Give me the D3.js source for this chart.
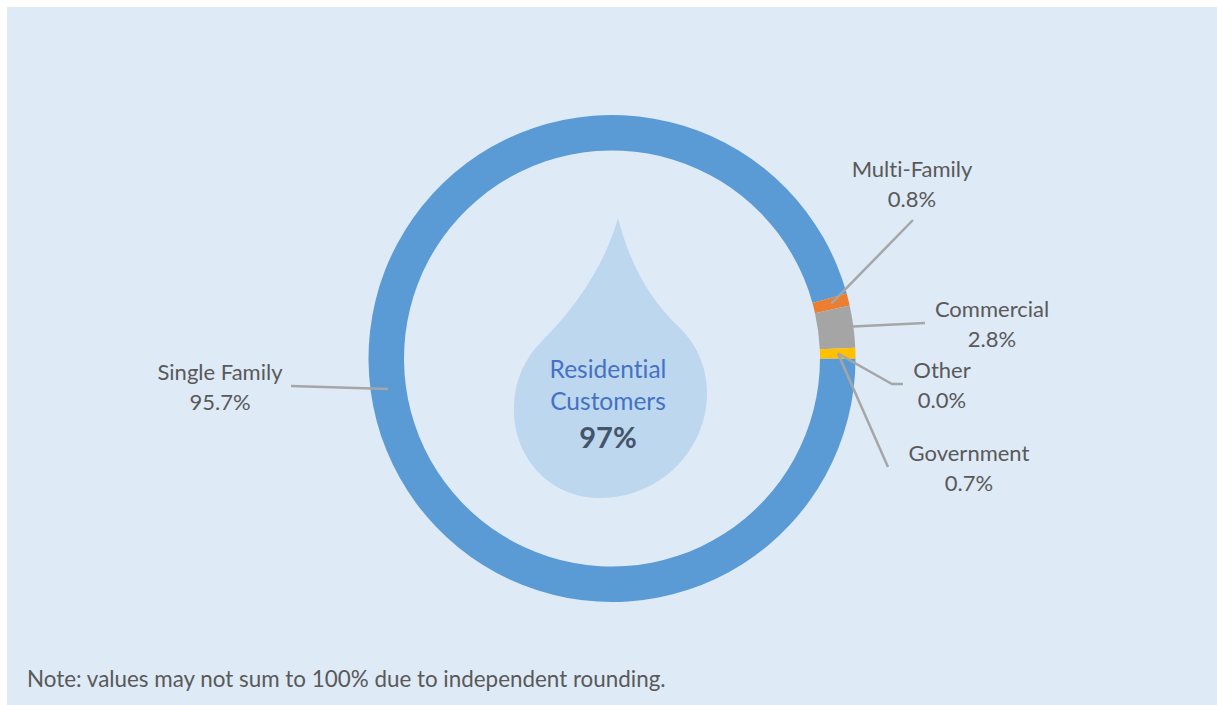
<!DOCTYPE html>
<html><head><meta charset="utf-8">
<script src="https://cdn.jsdelivr.net/npm/d3@7/dist/d3.min.js"></script>
<style>html,body{margin:0;padding:0;background:#fff;overflow:hidden}svg{display:block}text{font-family:Lato,"Open Sans",sans-serif;font-variant-ligatures:none}</style>
</head><body><svg id="c" width="1217" height="705"></svg>
<script>
const categories=["Single Family","Multi-Family","Commercial","Other","Government"];
const values=[95.7,0.8,2.8,0.0,0.7];
const colors=["#5B9BD5","#ED7D31","#A5A5A5","#4472C4","#FFC000"];
const centerLines=["Residential","Customers"];
const centerValue="97%";
const note="Note: values may not sum to 100% due to independent rounding.";

// layout (separate from the data)
const cx=612,cy=358.5,R=243.5,r0=208;
const labelPos={
 "Single Family":{x:220,y:380,pts:[[291,386]],radius:226},
 "Multi-Family":{x:912,y:177,pts:[[913,220]],radius:226},
 "Commercial":{x:992,y:317,pts:[[925,323]],radius:243},
 "Other":{x:942,y:378,pts:[[903,384],[892,384]],radius:226,anchor:"Government"},
 "Government":{x:969,y:461,pts:[[888,467]],radius:226}
};
const svg=d3.select("#c");
svg.append("rect").attr("x",7).attr("y",7).attr("width",1210).attr("height",698).attr("fill","#DEEAF6");

const pie=d3.pie().sort(null).startAngle(Math.PI/2).endAngle(Math.PI/2+2*Math.PI)(values);
const arc=d3.arc().innerRadius(r0).outerRadius(R);
const g=svg.append("g").attr("transform",`translate(${cx},${cy})`);

// drop
svg.append("path").attr("fill","#BDD7EE")
 .attr("d","M618,218C630,265 650,300 680,328C700,348 707,372 707,393C707,450 660,498 600,498C550,498 514,458 514,410C514,380 525,358 543,340C575,308 605,265 618,218Z");

g.selectAll("path.s").data(pie).join("path").attr("class","s")
 .attr("d",arc).attr("fill",(d,i)=>colors[i]);

// leaders
const line=d3.line();
categories.forEach((c,i)=>{
  const l=labelPos[c];
  const src=l.anchor?categories.indexOf(l.anchor):i;
  const d=pie[src];
  const a=(d.startAngle+d.endAngle)/2;
  const p=[cx+l.radius*Math.sin(a),cy-l.radius*Math.cos(a)];
  svg.append("path").attr("fill","none").attr("stroke","#A6A6A6").attr("stroke-width",2.5)
    .attr("d",line([...l.pts,p]));
  const t=svg.append("text").attr("text-anchor","middle").attr("fill","#595959").attr("font-size",22);
  t.append("tspan").attr("x",l.x).attr("y",l.y).text(c);
  t.append("tspan").attr("x",l.x).attr("y",l.y+29.5).text(values[i].toFixed(1)+"%");
});

// centre text
centerLines.forEach((s,i)=>svg.append("text").attr("x",608).attr("y",378+i*31.5).attr("text-anchor","middle")
  .attr("fill","#4472C4").attr("font-size",24.5).text(s));
svg.append("text").attr("x",608).attr("y",448).attr("text-anchor","middle").attr("fill","#44546A")
  .attr("font-size",29).attr("font-weight",700).text(centerValue);
svg.append("text").attr("x",27).attr("y",686.5).attr("fill","#595959").attr("font-size",22.4).text(note);
</script></body></html>
